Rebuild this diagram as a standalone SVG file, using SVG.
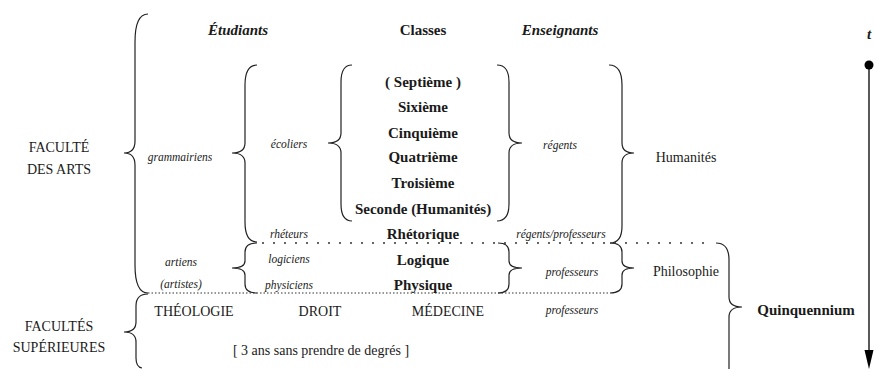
<svg xmlns="http://www.w3.org/2000/svg" width="874" height="369" viewBox="0 0 874 369">
<style>
.t{font-family:'Liberation Serif','DejaVu Serif',serif;fill:#1a1a1a;text-anchor:middle}
.hd{font-size:15px;font-weight:bold}
.hdi{font-size:15px;font-weight:bold;font-style:italic}
.cl{font-size:15px;font-weight:bold}
.rg{font-size:14px}
.it{font-size:11.5px;font-style:italic}
.br{fill:none;stroke:#222;stroke-width:1.2}
.dot1{fill:none;stroke:#333;stroke-width:1.4;stroke-dasharray:2 9}
.dot2{fill:none;stroke:#333;stroke-width:1.2;stroke-dasharray:1.5 2}
</style>
<rect width="874" height="369" fill="#fff"/>

<g id="connectors">
<path id="brace-arts" class="br" d="M148,14 Q135,14 135,42 L135,141 Q135,153 124,153 Q135,153 135,165 L135,265 Q135,293 148,293"/>
<path id="brace-sup" class="br" d="M148,294 Q136,294 136,306 L136,322 Q136,332 124,332 Q136,332 136,342 L136,358 Q136,367 142,368"/>
<path id="brace-gram" class="br" d="M257,65 Q245,65 245,85 L245,143 Q245,153 232,153 Q245,153 245,163 L245,222 Q245,242 257,242"/>
<path id="brace-art" class="br" d="M257,243 Q245,243 245,252 L245,261 Q245,268 232,268 Q245,268 245,275 L245,284 Q245,293 257,293"/>
<path id="brace-cl-l" class="br" d="M352,65 Q341,65 341,82 L341,133 Q341,143 328,143 Q341,143 341,153 L341,204 Q341,221 352,221"/>
<path id="brace-cl-r" class="br" d="M497,65 Q509,65 509,82 L509,133 Q509,143 522,143 Q509,143 509,153 L509,204 Q509,221 497,221"/>
<path id="brace-hum" class="br" d="M609,65 Q622,65 622,85 L622,143 Q622,153 634,153 Q622,153 622,163 L622,226 Q622,243 610,243"/>
<path id="brace-log" class="br" d="M498,243 Q509,243 509,252 L509,261 Q509,268 522,268 Q509,268 509,275 L509,284 Q509,293 498,293"/>
<path id="brace-phil" class="br" d="M610,243 Q622,243 622,252 L622,261 Q622,268 634,268 Q622,268 622,275 L622,284 Q622,293 610,293"/>
<path id="brace-quin" class="br" d="M716,243 Q729,243 729,260 L729,297 Q729,307 742,307 Q729,307 729,317 L729,369"/>
<line id="sep-rhet" class="dot1" x1="262" y1="243" x2="712" y2="243"/>
<line id="sep-arts" class="dot2" x1="148" y1="293" x2="610" y2="293"/>
</g>

<g font-family="'Liberation Serif', 'DejaVu Serif', serif">
<g id="time-axis">
<text x="869" y="39" class="t hdi">t</text>
<circle cx="869" cy="65" r="4.5" fill="#000"/>
<line x1="869" y1="65" x2="869" y2="352" stroke="#000" stroke-width="1.3"/>
<path d="M864.5,350 L873.5,350 L869,369 Z" fill="#000"/>
</g>

<g id="headers">
<text id="h-etudiants" x="238" y="35" class="t hdi">Étudiants</text>
<text id="h-classes" x="423" y="35" class="t hd">Classes</text>
<text id="h-enseignants" x="560" y="35" class="t hdi">Enseignants</text>
</g>

<g id="classes">
<text x="423" y="87" class="t cl">( Septième )</text>
<text x="423" y="112" class="t cl">Sixième</text>
<text x="423" y="138" class="t cl">Cinquième</text>
<text x="423" y="162" class="t cl">Quatrième</text>
<text x="423" y="188" class="t cl">Troisième</text>
<text x="423" y="214" class="t cl">Seconde (Humanités)</text>
<text x="423" y="239" class="t cl">Rhétorique</text>
<text x="423" y="265" class="t cl">Logique</text>
<text x="423" y="290" class="t cl">Physique</text>
</g>

<g id="faculte-arts"><text x="59" y="152" class="t rg">FACULTÉ</text><text x="59" y="174" class="t rg">DES ARTS</text></g>
<g id="facultes-sup"><text x="59" y="331" class="t rg">FACULTÉS</text><text x="59" y="352" class="t rg">SUPÉRIEURES</text></g>

<g id="grammairiens"><text x="180" y="161" class="t it">grammairiens</text></g>
<g id="ecoliers"><text x="289" y="148" class="t it">écoliers</text></g>
<g id="regents"><text x="560" y="149" class="t it">régents</text></g>
<g id="humanites"><text x="686" y="162" class="t rg">Humanités</text></g>
<g id="rheteurs"><text x="289" y="238" class="t it">rhéteurs</text></g>
<g id="regents-professeurs"><text x="561" y="238" class="t it">régents/professeurs</text></g>
<g id="artiens"><text x="181" y="266" class="t it">artiens</text><text x="181" y="288" class="t it">(artistes)</text></g>
<g id="logiciens"><text x="289" y="263" class="t it">logiciens</text></g>
<g id="physiciens"><text x="289" y="289" class="t it">physiciens</text></g>
<g id="professeurs-phil"><text x="572" y="276" class="t it">professeurs</text></g>
<g id="philosophie"><text x="686" y="276" class="t rg">Philosophie</text></g>
<g id="quinquennium"><text x="806" y="315" class="t hd">Quinquennium</text></g>
<g id="theologie"><text x="194" y="316" class="t rg">THÉOLOGIE</text></g>
<g id="droit"><text x="320" y="316" class="t rg">DROIT</text></g>
<g id="medecine"><text x="448" y="316" class="t rg">MÉDECINE</text></g>
<g id="professeurs-sup"><text x="572" y="314" class="t it">professeurs</text></g>
<g id="trois-ans"><text x="321" y="355" class="t rg">[ 3 ans sans prendre de degrés ]</text></g>
</g>
</svg>
